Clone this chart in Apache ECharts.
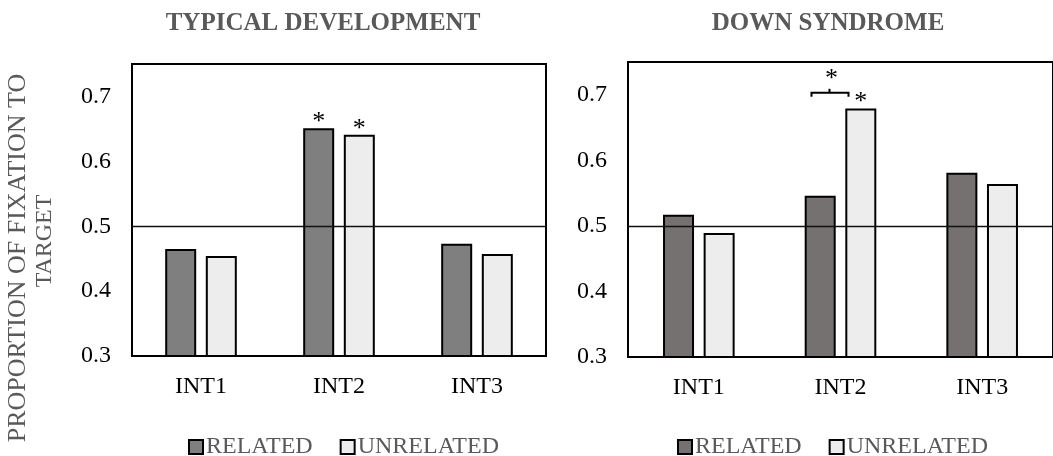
<!DOCTYPE html>
<html>
<head>
<meta charset="utf-8">
<script src="https://cdn.jsdelivr.net/npm/echarts@6/dist/echarts.min.js"></script>
<style>
  html, body { margin: 0; padding: 0; background: #fff; }
  #chart { width: 1053px; height: 456px; }
</style>
</head>
<body>
<div id="chart"></div>
<script>
const categories = ['INT1', 'INT2', 'INT3']

// typical development
const tdRelated = [0.465, 0.651, 0.473]
const tdUnrelated = [0.454, 0.641, 0.457]
const tdRelatedSig = [false, true, false]
const tdUnrelatedSig = [false, true, false]

// down syndrome
const dsRelated = [0.517, 0.546, 0.581]
const dsUnrelated = [0.489, 0.679, 0.564]
const dsRelatedSig = [false, false, false]
const dsUnrelatedSig = [false, true, false]

// comparison bracket (related vs unrelated) in the DS panel
const dsBracketCat = [1]
const dsBracketLevel = [0.703]

const chanceLevel = 0.5
const yMin = 0.3
const yMax = 0.75
const yStep = 0.1

const colors = {
  tdRelated: '#7f7f7f',
  dsRelated: '#767171',
  unrelated: '#ededed',
  text: '#595959',
  ink: '#000000',
}
const serif = '"Liberation Serif", "DejaVu Serif", serif'

function withStars(values, sig) {
  return values.map((v, i) => ({ value: v, label: { show: sig[i] } }))
}

function barSeries(name, values, sig, color, idx) {
  return {
    name,
    type: 'bar',
    xAxisIndex: idx,
    yAxisIndex: idx,
    barWidth: 31,
    barGap: '31%',
    data: withStars(values, sig),
    itemStyle: { color, borderColor: colors.ink, borderWidth: 2 },
    label: {
      show: false,
      position: 'top',
      distance: -7,
      formatter: '*',
      fontFamily: serif,
      fontSize: 26,
      color: colors.ink,
    },
  }
}

const chanceLine = {
  silent: true,
  symbol: 'none',
  label: { show: false },
  lineStyle: { color: '#111', width: 1.3, type: 'solid' },
  data: [{ yAxis: chanceLevel }],
}

function xAxis(idx) {
  return {
    gridIndex: idx,
    type: 'category',
    data: categories,
    axisLine: { lineStyle: { color: colors.ink, width: 2 } },
    axisTick: { show: false },
    axisLabel: { color: colors.ink, fontFamily: serif, fontSize: 24, margin: 19 },
  }
}

function yAxis(idx) {
  return {
    gridIndex: idx,
    type: 'value',
    min: yMin,
    max: yMax,
    interval: yStep,
    axisLine: { show: false },
    axisTick: { show: false },
    splitLine: { show: false },
    axisLabel: {
      showMaxLabel: false,
      color: colors.ink,
      fontFamily: serif,
      fontSize: 24,
      margin: 21,
      formatter: (v) => v.toFixed(1),
    },
  }
}

function legend(left, relatedColor) {
  return {
    left,
    top: 430,
    itemWidth: 14,
    itemHeight: 14,
    itemGap: 27,
    icon: 'rect',
    textStyle: { color: colors.text, fontFamily: serif, fontSize: 24, padding: [0, 0, 0, -2] },
    data: [
      { name: 'RELATED', itemStyle: { color: relatedColor, borderColor: colors.ink, borderWidth: 2 } },
      { name: 'UNRELATED', itemStyle: { color: colors.unrelated, borderColor: colors.ink, borderWidth: 2 } },
    ],
  }
}

const option = {
  animation: false,
  backgroundColor: '#fff',
  title: [
    {
      text: 'TYPICAL DEVELOPMENT',
      left: 318,
      top: 6,
      textAlign: 'center',
      textStyle: { color: colors.text, fontFamily: serif, fontWeight: 'bold', fontSize: 25 },
    },
    {
      text: 'DOWN SYNDROME',
      left: 823,
      top: 6,
      textAlign: 'center',
      textStyle: { color: colors.text, fontFamily: serif, fontWeight: 'bold', fontSize: 25 },
    },
  ],
  grid: [
    { left: 132, top: 64, width: 414, height: 292, show: true, borderColor: colors.ink, borderWidth: 2, containLabel: false },
    { left: 628, top: 62, width: 436, height: 295, show: true, borderColor: colors.ink, borderWidth: 2, containLabel: false },
  ],
  xAxis: [xAxis(0), xAxis(1)],
  yAxis: [yAxis(0), yAxis(1)],
  legend: [legend(183, colors.tdRelated), legend(672, colors.dsRelated)],
  graphic: [
    {
      type: 'text',
      x: 18,
      y: 258,
      rotation: Math.PI / 2,
      style: {
        text: 'PROPORTION OF FIXATION TO',
        fill: colors.text,
        font: `26px ${serif}`,
        textAlign: 'center',
        textVerticalAlign: 'middle',
      },
    },
    {
      type: 'text',
      x: 45,
      y: 241,
      rotation: Math.PI / 2,
      style: {
        text: 'TARGET',
        fill: colors.text,
        font: `24px ${serif}`,
        textAlign: 'center',
        textVerticalAlign: 'middle',
      },
    },
  ],
  series: [
    { ...barSeries('RELATED', tdRelated, tdRelatedSig, colors.tdRelated, 0), markLine: chanceLine },
    barSeries('UNRELATED', tdUnrelated, tdUnrelatedSig, colors.unrelated, 0),
    { ...barSeries('RELATED', dsRelated, dsRelatedSig, colors.dsRelated, 1), markLine: chanceLine },
    barSeries('UNRELATED', dsUnrelated, dsUnrelatedSig, colors.unrelated, 1),
    {
      name: 'bracket',
      type: 'custom',
      xAxisIndex: 1,
      yAxisIndex: 1,
      silent: true,
      data: dsBracketCat.map((c, i) => [c, dsBracketLevel[i]]),
      renderItem(params, api) {
        const p = api.coord([api.value(0), api.value(1)])
        const x0 = p[0] - 29
        const x1 = p[0] + 8
        const xm = p[0] - 11
        const y = p[1]
        const stroke = { stroke: colors.ink, lineWidth: 2, fill: null }
        return {
          type: 'group',
          children: [
            { type: 'polyline', shape: { points: [[x0, y + 4], [x0, y], [x1, y], [x1, y + 4]] }, style: stroke },
            { type: 'line', shape: { x1: xm, y1: y, x2: xm, y2: y - 4 }, style: stroke },
            {
              type: 'text',
              style: {
                text: '*',
                x: xm + 2,
                y: y - 14,
                fill: colors.ink,
                font: `26px ${serif}`,
                textAlign: 'center',
                textVerticalAlign: 'middle',
              },
            },
          ],
        }
      },
    },
  ],
}

const chart = echarts.init(document.getElementById('chart'))
chart.setOption(option)
</script>
</body>
</html>
